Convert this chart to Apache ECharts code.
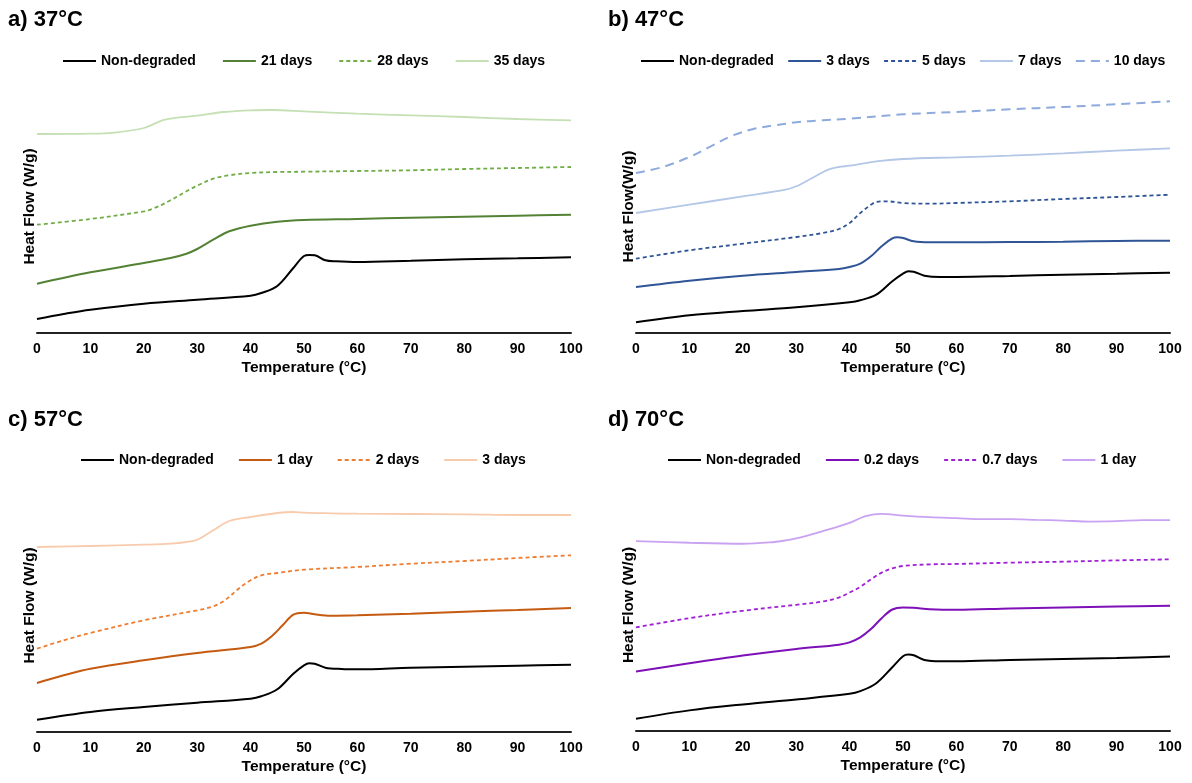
<!DOCTYPE html>
<html><head><meta charset="utf-8">
<script src="https://cdn.jsdelivr.net/npm/echarts@6/dist/echarts.min.js"></script>
<style>html,body{margin:0;padding:0;background:#fff}#c{width:1192px;height:783px}</style>
</head><body><div id="c"></div>
<script>
// x: temperature (°C); y: heat flow (arbitrary, offset curves)
const xTicks = [0,10,20,30,40,50,60,70,80,90,100];
const panelTitles = ['a) 37°C','b) 47°C','c) 57°C','d) 70°C'];
const yNames = ['Heat Flow (W/g)','Heat Flow(W/g)','Heat Flow (W/g)','Heat Flow (W/g)'];

const a_names = ['Non-degraded','21 days','28 days','35 days'];
const a_nd = [[0,14],[5,19],[10,23.3],[20,29.3],[30,33.3],[40,37.3],[42,40],[45,47],[48,65],[50,77],[51,78],[52,77.7],[54,72.7],[56,71.7],[60,71],[70,72.3],[80,73.7],[90,74.7],[100,75.7]];
const a_21 = [[0,49.3],[10,60.7],[20,70],[25,75],[28,79.3],[30,84],[33,93.3],[36,101.7],[40,107.3],[45,111.3],[50,113],[60,114],[70,115.3],[80,116.3],[90,117.3],[100,118.3]];
const a_28 = [[0,108.3],[10,114],[20,121.7],[22,125],[25,132.7],[28,141.7],[30,147.3],[33,154.3],[36,157.7],[40,160],[45,161],[50,161.3],[60,162],[70,162.7],[80,164],[90,165],[100,166]];
const a_35 = [[0,199],[10,199.3],[15,200.7],[20,205],[24,213.3],[30,217.3],[35,221],[40,222.7],[44,223],[50,221.7],[60,219.3],[70,217.7],[80,216],[90,214],[100,212.7]];

const b_names = ['Non-degraded','3 days','5 days','7 days','10 days'];
const b_nd = [[0,10.7],[10,17.7],[20,22],[30,25.7],[40,30.7],[42,32.7],[45,38.3],[48,51.7],[50,59.3],[51,61.7],[52,61.3],[54,57.3],[57,56],[60,56],[70,57],[80,58.3],[90,59.3],[100,60.3]];
const b_3 = [[0,46],[10,52.3],[20,57.3],[30,61],[38,64],[40,66],[42,69.3],[44,76.7],[46,86.7],[48,94.7],[49,95.7],[50,95],[52,91.7],[55,90.7],[60,90.7],[70,91],[80,91.3],[90,92],[100,92.3]];
const b_5 = [[0,74.3],[10,82.7],[20,89.3],[30,96],[35,100],[38,104],[40,110],[42,120],[44,128.3],[45,131],[47,131.7],[50,130],[55,129.3],[60,130],[70,131.7],[80,134],[90,136],[100,138.3]];
const b_7 = [[0,120],[10,128.3],[20,136.7],[28,143.3],[30,146.7],[33,155],[36,163.3],[38,166],[40,167.3],[45,171.7],[50,174],[60,175.7],[70,177.3],[80,179.7],[90,182.3],[100,184.7]];
const b_10 = [[0,160],[5,166],[10,176],[14,186.7],[18,197.3],[22,204],[26,207.7],[30,210.7],[35,212.7],[40,214.3],[50,218.7],[60,221],[70,223.7],[80,226],[90,228.7],[100,231.7]];

const c_names = ['Non-degraded','1 day','2 days','3 days'];
const c_nd = [[0,12.3],[10,20],[20,25],[30,29.3],[40,33.3],[42,35.7],[45,42.7],[48,58.3],[50,66.7],[51,68.7],[52,68.3],[54,64.3],[57,63],[60,62.7],[70,64.3],[80,65.3],[90,66.3],[100,67.3]];
const c_1 = [[0,49],[5,56.7],[10,63.3],[20,71.7],[30,79],[40,85],[42,88.3],[44,96],[46,106.7],[48,117.3],[50,119.3],[52,117.7],[55,116.3],[60,116.7],[70,118.3],[80,120.3],[90,122],[100,124]];
const c_2 = [[0,83.3],[5,91.7],[10,99],[20,111.7],[30,121.7],[33,125.7],[35,131],[38,144.3],[40,151.7],[42,156.7],[45,159],[50,162.3],[60,165],[70,168.3],[80,171],[90,174],[100,176.7]];
const c_3 = [[0,185],[10,186],[20,187.3],[25,188.3],[28,190],[30,192.3],[33,201.7],[36,211],[40,215],[45,219],[48,220],[50,219.3],[55,218.7],[60,218.3],[70,218],[80,217.7],[90,217],[100,217]];

const d_names = ['Non-degraded','0.2 days','0.7 days','1 day'];
const d_nd = [[0,12.3],[10,20.7],[20,26.7],[30,31.7],[40,37.3],[42,40],[45,48],[48,64],[50,75],[51,76.7],[52,76],[54,71.3],[57,70],[60,70],[70,71.3],[80,72.3],[90,73.3],[100,74.7]];
const d_02 = [[0,59.7],[10,68],[20,75.7],[30,82.3],[38,86.7],[40,89],[42,94],[44,102.3],[46,113.3],[48,122],[50,124],[52,123.7],[55,122.3],[60,121.7],[70,123],[80,124],[90,125],[100,125.7]];
const d_07 = [[0,104],[10,113.3],[20,120.7],[30,126.7],[35,130],[38,134],[40,139],[42,144.7],[44,152.3],[46,159],[48,163.3],[50,165.7],[55,167.3],[60,167.7],[70,169],[80,170],[90,171.3],[100,172.3]];
const d_1 = [[0,190.7],[10,189],[20,188],[25,189.3],[28,191.3],[30,193.3],[35,200.7],[40,209],[43,215.7],[46,218],[50,216.3],[55,214.7],[60,213.7],[65,212.7],[70,212.7],[75,212],[80,211.3],[85,210.3],[90,210.7],[95,211.7],[100,211.7]];

const FONT = '"Liberation Sans", Arial, sans-serif';
const SHORT = [4,3], LONG = [9,6];

const panels = [
  {grid:{left:37,right:621,top:80,bottom:450}, title:{left:3,top:4}, legend:{left:57,top:49,itemGap:26},
   names:a_names, data:[a_nd,a_21,a_28,a_35],
   styles:[{c:'#000000',w:2,t:'solid'},{c:'#548235',w:2,t:'solid'},{c:'#70AD47',w:1.8,t:SHORT},{c:'#C5E0B4',w:1.8,t:'solid'}]},
  {grid:{left:636,right:22,top:80,bottom:450}, title:{left:603,top:4}, legend:{left:635,top:49,itemGap:13.3},
   names:b_names, data:[b_nd,b_3,b_5,b_7,b_10],
   styles:[{c:'#000000',w:2,t:'solid'},{c:'#2F5597',w:2,t:'solid'},{c:'#2F5597',w:1.8,t:SHORT},{c:'#B4C7E7',w:1.8,t:'solid'},{c:'#8FAADC',w:2,t:LONG}]},
  {grid:{left:37,right:621,top:479,bottom:51}, title:{left:3,top:404}, legend:{left:75,top:448,itemGap:24},
   names:c_names, data:[c_nd,c_1,c_2,c_3],
   styles:[{c:'#000000',w:2,t:'solid'},{c:'#C55A11',w:2,t:'solid'},{c:'#ED7D31',w:1.8,t:SHORT},{c:'#F8CBAD',w:1.8,t:'solid'}]},
  {grid:{left:636,right:22,top:479,bottom:52}, title:{left:603,top:404}, legend:{left:662,top:448,itemGap:24},
   names:d_names, data:[d_nd,d_02,d_07,d_1],
   styles:[{c:'#000000',w:2,t:'solid'},{c:'#7E10B8',w:2,t:'solid'},{c:'#A020D8',w:1.8,t:SHORT},{c:'#C9A2F2',w:1.8,t:'solid'}]}
];

const option = {
  animation:false,
  backgroundColor:'#fff',
  title:[], legend:[], grid:[], xAxis:[], yAxis:[], series:[]
};
panels.forEach((p,i)=>{
  const key = n => i + '|' + n;   // unique series names per panel
  option.title.push({text:panelTitles[i], left:p.title.left, top:p.title.top,
    textStyle:{fontFamily:FONT,fontSize:22,fontWeight:'bold',color:'#000'}});
  option.grid.push(p.grid);
  option.legend.push({show:true, data:p.names.map(key), left:p.legend.left, top:p.legend.top, itemGap:p.legend.itemGap,
    itemWidth:33, itemHeight:14, itemStyle:{opacity:0},
    formatter: n => n.slice(n.indexOf('|')+1),
    textStyle:{fontFamily:FONT,fontSize:14,fontWeight:'bold',color:'#000'}});
  option.xAxis.push({type:'value', gridIndex:i, min:0, max:100, interval:10,
    name:'Temperature (°C)', nameLocation:'middle', nameGap:27,
    nameTextStyle:{fontFamily:FONT,fontSize:15.5,fontWeight:'bold',color:'#000'},
    axisLine:{lineStyle:{color:'#222',width:2}}, axisTick:{show:false},
    axisLabel:{fontFamily:FONT,fontSize:14,fontWeight:'bold',color:'#000',margin:9},
    splitLine:{show:false}});
  option.yAxis.push({type:'value', gridIndex:i, min:0, max:253,
    name:yNames[i], nameLocation:'middle', nameGap:-1,
    nameTextStyle:{fontFamily:FONT,fontSize:15.5,fontWeight:'bold',color:'#000'},
    axisLine:{show:false}, axisTick:{show:false}, axisLabel:{show:false}, splitLine:{show:false}});
  p.data.forEach((d,j)=>{
    const s = p.styles[j];
    option.series.push({type:'line', name:key(p.names[j]), xAxisIndex:i, yAxisIndex:i, data:d,
      smooth:0.35, symbol:'none', color:s.c,
      lineStyle:{color:s.c,width:s.w,type:s.t}});
  });
});
const chart = echarts.init(document.getElementById('c'), null, {renderer:'canvas'});
chart.setOption(option);
</script></body></html>
